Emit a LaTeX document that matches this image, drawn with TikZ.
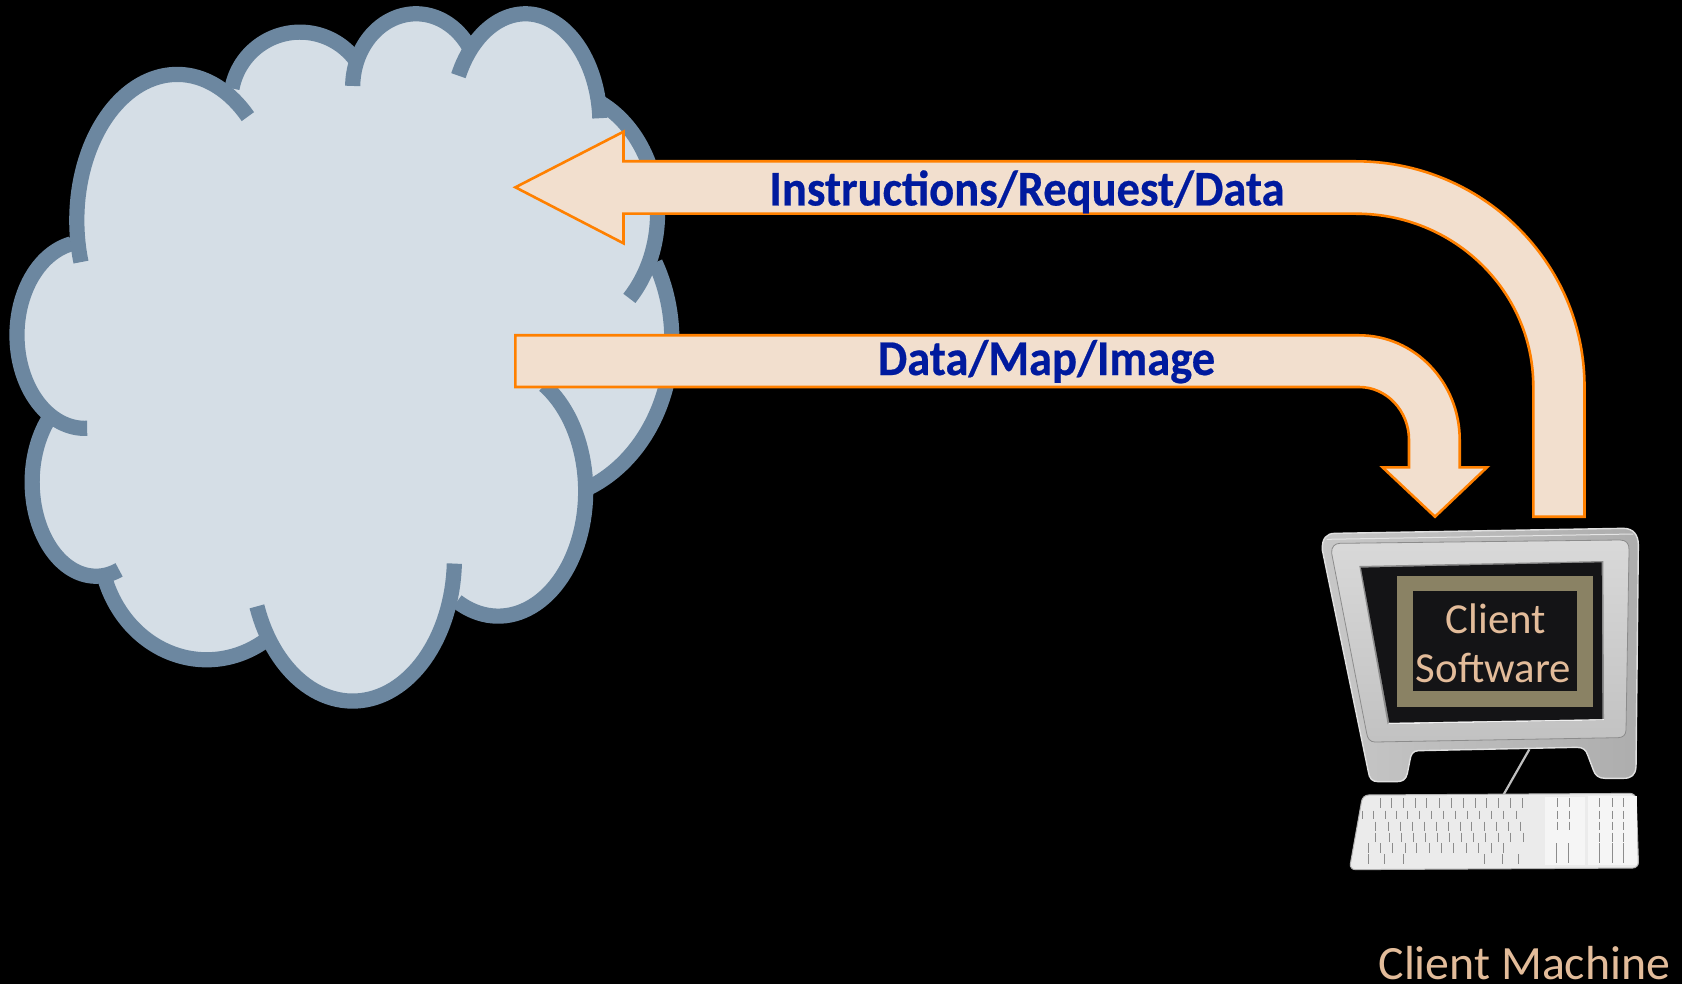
\documentclass[tikz,border=0pt]{standalone}
\usepackage{graphicx}
\usepackage{fontspec}
\setmainfont{Carlito}
\definecolor{cloudfill}{HTML}{D5DEE6}
\definecolor{cloudline}{HTML}{6C87A0}
\definecolor{arrowfill}{HTML}{F2DFCE}
\definecolor{arroworange}{HTML}{FF8000}
\definecolor{labelblue}{HTML}{001A9E}
\definecolor{tan}{HTML}{E3BC9A}
\definecolor{frameolive}{HTML}{8A8264}
\definecolor{screenblack}{HTML}{141416}
\newcommand\lobefillpass[6]{\path[fill=cloudfill] plot[domain=#5:#6,samples=60,variable=\t] ({#1+#3*cos(\t)},{#2+#4*sin(\t)}) -- (700,720) -- cycle;}
\newcommand\lobedrawpass[6]{\draw[cloudline,line width=7.6pt,line cap=butt] plot[domain=#5:#6,samples=60,variable=\t] ({#1+#3*cos(\t)},{#2+#4*sin(\t)});}
\newcommand\allLobes{%
\lobeitem{397}{480}{225}{318}{163.4}{314.7}%
\lobeitem{672}{220}{155}{150}{190.5}{323.8}%
\lobeitem{932}{190}{142}{160}{181}{327}%
\lobeitem{1177}{270}{167}{240}{206}{357}%
\lobeitem{1240}{465}{233}{270}{-63.4}{43.2}%
\lobeitem{1200}{740}{305}{350}{-28.7}{67.2}%
\lobeitem{1116}{1070}{196}{272}{-58.1}{118}%
\lobeitem{790}{1215}{228}{312}{2.3}{160.2}%
\lobeitem{463}{1180}{240}{257}{55.3}{162}%
\lobeitem{215}{1050}{143}{205}{68.8}{221.4}%
\lobeitem{190}{730}{152}{203}{88}{258.7}%
}
\newcommand\squeezed[1]{\scalebox{.93}[1]{\addfontfeature{FakeBold=0.5}#1}}
\tikzset{
  bigarrow/.style={draw=arroworange,fill=arrowfill,line width=1.3pt,line join=miter},
  arrowlabel/.style={text=labelblue,font=\fontsize{25}{25}\selectfont\bfseries,anchor=base,inner sep=0pt},
  tanlabel/.style={text=tan,anchor=base,inner sep=0pt}
}
\begin{document}
\begin{tikzpicture}[x=0.5pt,y=-0.5pt]
\useasboundingbox (0,0) rectangle (1682,984);
\fill[black] (0,0) rectangle (1682,984);
% cloud
\begin{scope}[x=0.22321pt,y=-0.22957pt]
\let\lobeitem\lobefillpass \allLobes
\fill[cloudfill] (178,545)--(530,215)--(790,140)--(1035,110)--(1335,230)--(1445,570)--(1475,700)--(1315,1060)--(1020,1300)--(600,1380)--(250,1250)--(115,925)--cycle;
\let\lobeitem\lobedrawpass \allLobes
\end{scope}
% arrows
\draw[bigarrow] (515.4,187.3) -- (623.5,131.7) -- (623.5,161.3) -- (1356,161.3)
  .. controls (1482,161.3) and (1584.5,262.3) .. (1584.5,386.7) -- (1584.5,516.7) -- (1533.3,516.7) -- (1533.3,386.7)
  .. controls (1533.3,291) and (1454,213.7) .. (1356,213.7) -- (623.5,213.7) -- (623.5,243.3) -- cycle;
\draw[bigarrow] (515.4,335.3) -- (1359,335.3)
  .. controls (1414.6,335.3) and (1459.7,382.2) .. (1459.7,440) -- (1459.7,467.3) -- (1487,467.3) -- (1435,516.7) -- (1382.5,467.3) -- (1409,467.3) -- (1409,440)
  .. controls (1409,410.7) and (1386.6,387) .. (1359,387) -- (515.4,387) -- cycle;
\node[arrowlabel] (req) at (1027,205.5) {\squeezed{Instructions/Request/Data}};
\node[arrowlabel] (resp) at (1046.5,375) {\squeezed{Data/Map/Image}};
% computer
\begin{scope}[shift={(1290,500)},x=0.16667pt,y=-0.16667pt]
\path[left color=black!22,right color=black!32,draw=black!12,line width=.7pt]
  (97,150) .. controls (95,115) and (110,100) .. (135,100) -- (1000,85)
  .. controls (1030,85) and (1045,105) .. (1045,135) -- (1038,800)
  .. controls (1036,825) and (1025,835) .. (1000,835) -- (945,835)
  .. controls (925,835) and (915,825) .. (910,810) -- (893,765)
  .. controls (888,750) and (880,742) .. (860,742) -- (385,752)
  .. controls (368,752) and (362,765) .. (360,780) -- (352,820)
  .. controls (348,838) and (338,845) .. (320,845) -- (265,845)
  .. controls (245,845) and (238,835) .. (235,815) -- cycle;
\path[top color=black!15,bottom color=black!24,draw=black!45,line width=.4pt] (125,160) .. controls (123,140) and (135,130) .. (150,130)
  -- (990,120) .. controls (1008,120) and (1018,130) .. (1017,150) -- (1008,690)
  .. controls (1007,705) and (1000,712) .. (985,713) -- (255,726)
  .. controls (240,726) and (232,715) .. (230,700) -- cycle;
\draw[black!10,line width=.5pt] (110,118) -- (1030,102);
\fill[black!45] (208,198) -- (940,183) -- (942,661) -- (293,673) -- cycle;
\fill[black!6] (293,673) -- (942,661) -- (942,657) -- (298,668) -- cycle;
\fill[screenblack] (213,203) -- (935,187) -- (937,657) -- (298,668) -- cycle;
\fill[frameolive] (320,227) rectangle (910,620);
\fill[screenblack] (369,274) rectangle (862,572);
\node[tanlabel,font=\fontsize{21.4}{21.4}\selectfont] (client) at (617,400) {Client};
\node[tanlabel,font=\fontsize{21.4}{21.4}\selectfont] (software) at (610,548) {Software};
% cable
\draw[black!25,line width=1.1pt] (718,748) -- (640,885);
% keyboard
\fill[black!8,draw=black!30,line width=.5pt,rounded corners=3pt] (218,885) -- (1038,880) -- (1046,1104) -- (178,1109) -- cycle;
\fill[black!4] (765,890) rectangle (885,1095);
\fill[black!4] (895,888) rectangle (1040,1095);
\begin{scope}[black!45,line width=.3pt]
\foreach \x in {270,305,340,375,410,447,484,520,555,590,625,660,697} \draw (\x,895) -- (\x,925);
\foreach \x in {218,250,285,318,352,388,424,460,497,533,569,605,640,678} \draw (\x,932) -- (\x,958);
\foreach \x in {257,295,330,366,402,438,474,510,545,582,618,655,692} \draw (\x,965) -- (\x,993);
\foreach \x in {255,298,334,370,407,442,478,514,550,586,625,660,700} \draw (\x,998) -- (\x,1025);
\foreach \x in {235,272,308,345,380,417,453,490,528,565,603,640} \draw (\x,1030) -- (\x,1058);
\foreach \x in {235,283,340,582,638,686} \draw (\x,1062) -- (\x,1092);
\foreach \x in {802,838,928,966,1000} \foreach \y in {895,932,965} \draw (\x,\y) -- (\x,\y+26);
\foreach \x in {800,835,928,966,1000} \draw (\x,1030) -- (\x,1090);
\foreach \x in {928,966,1000} \draw (\x,998) -- (\x,1025);
\end{scope}
\node[tanlabel,font=\fontsize{23.9}{23.9}\selectfont] (machine) at (703,1438) {Client Machine};
\end{scope}
\end{tikzpicture}
\end{document}
